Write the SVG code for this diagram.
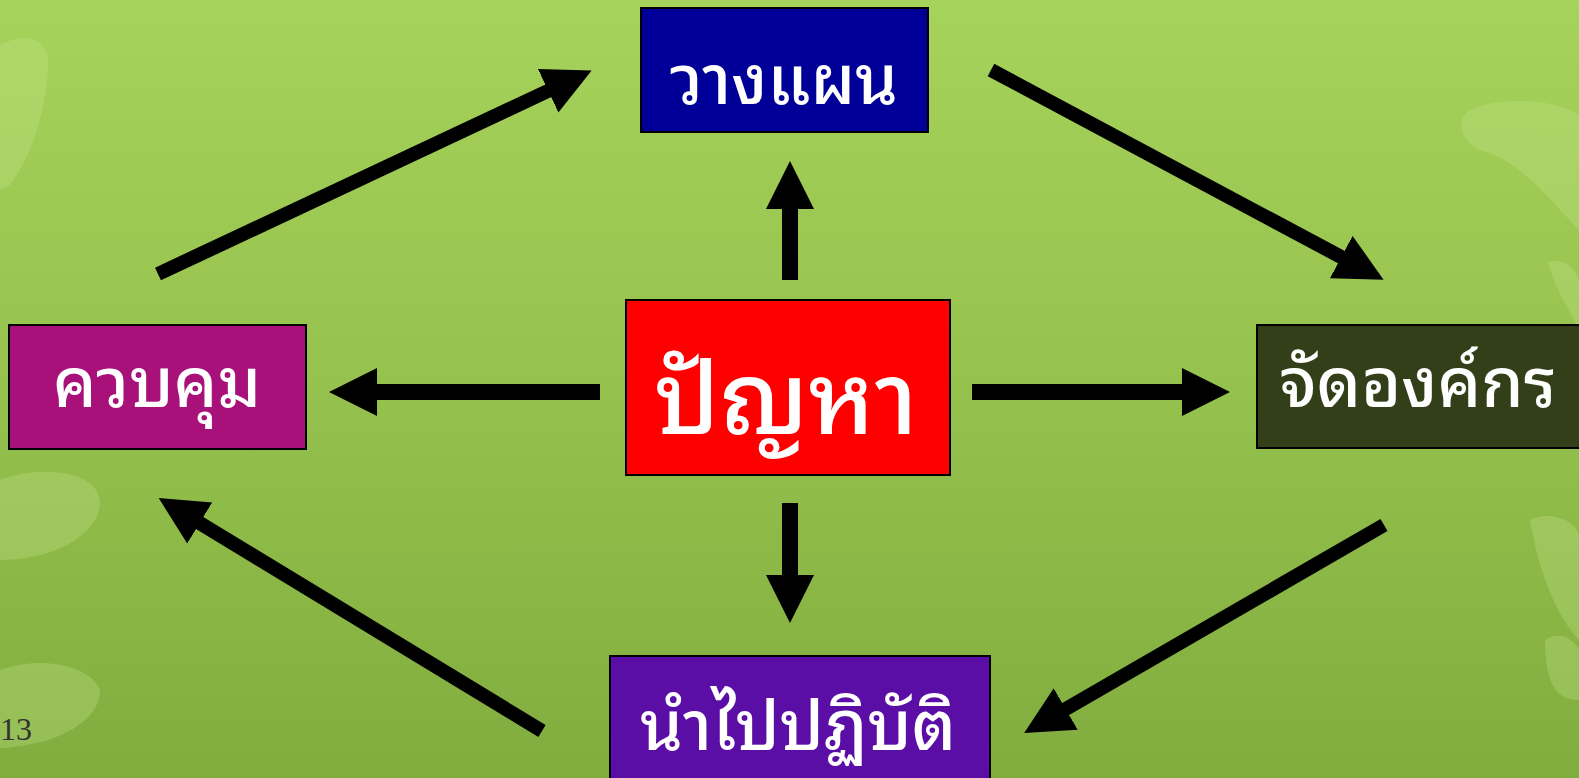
<svg xmlns="http://www.w3.org/2000/svg" width="1579" height="778" viewBox="0 0 1579 778">
<defs>
<linearGradient id="bg" x1="0" y1="0" x2="0" y2="1">
<stop offset="0" stop-color="#a6d35b"/>
<stop offset="0.5" stop-color="#95c14d"/>
<stop offset="1" stop-color="#80ad3e"/>
</linearGradient>
<marker id="ah" markerUnits="userSpaceOnUse" markerWidth="50" markerHeight="50" refX="2" refY="24" orient="auto">
<path d="M0,0 L48,24 L0,48 Z" fill="#000"/>
</marker>
<style>
.box{stroke:#000;stroke-width:2}
.lbl{fill:#fff;font-family:"Noto Sans Thai Looped","Noto Serif Thai","Garuda","Loma","Tlwg Typo","Kinnari","Norasi","Noto Sans Thai","Noto Sans",sans-serif;font-weight:500;text-anchor:middle}
.conn{stroke:#000;fill:none;marker-end:url(#ah)}
.blob{fill:#c8e690;opacity:0.3}
</style>
</defs>
<rect width="1579" height="778" fill="url(#bg)"/>
<g id="background-decor">
<path class="blob" d="M0,45 C30,30 50,40 48,70 C45,110 35,150 10,185 L0,190 Z"/>
<path class="blob" d="M0,480 C40,465 95,470 100,500 C102,530 60,560 0,560 Z"/>
<path class="blob" d="M0,670 C40,655 90,665 100,690 C100,720 60,745 0,748 Z"/>
<path class="blob" d="M1470,110 C1500,95 1560,100 1579,115 L1579,230 C1550,200 1520,160 1480,150 C1460,140 1455,120 1470,110 Z"/>
<path class="blob" d="M1548,262 C1560,258 1575,265 1579,280 L1579,330 C1570,310 1555,290 1548,262 Z"/>
<path class="blob" d="M1530,520 C1550,510 1575,520 1579,535 L1579,640 C1560,620 1540,580 1530,520 Z"/>
<path class="blob" d="M1545,640 C1560,630 1575,640 1579,650 L1579,700 C1560,700 1545,690 1545,640 Z"/>
</g>
<g id="connectors">
<line class="conn" stroke-width="14" x1="158" y1="274" x2="550" y2="90"/>
<line class="conn" stroke-width="14" x1="991" y1="70" x2="1343" y2="258"/>
<line class="conn" stroke-width="14" x1="1384" y1="525" x2="1064" y2="710"/>
<line class="conn" stroke-width="14" x1="542" y1="731" x2="198" y2="522"/>
<line class="conn" stroke-width="16" x1="600" y1="392" x2="375" y2="392"/>
<line class="conn" stroke-width="16" x1="972" y1="392" x2="1184" y2="392"/>
<line class="conn" stroke-width="16" x1="790" y1="280" x2="790" y2="207"/>
<line class="conn" stroke-width="16" x1="790" y1="503" x2="790" y2="577"/>
</g>
<g id="node-plan">
<rect class="box" x="641" y="8" width="287" height="124" fill="#000099"/>
<text class="lbl" x="784" y="104" font-size="68">วางแผน</text>
</g>
<g id="node-problem">
<rect class="box" x="626" y="300" width="324" height="175" fill="#ff0000"/>
<text class="lbl" x="786" y="434" font-size="100">ปัญหา</text>
</g>
<g id="node-organize">
<rect class="box" x="1257" y="325" width="330" height="123" fill="#333f18"/>
<text class="lbl" x="1418" y="407" font-size="68">จัดองค์กร</text>
</g>
<g id="node-control">
<rect class="box" x="9" y="325" width="297" height="124" fill="#a8107a"/>
<text class="lbl" x="157" y="407" font-size="68">ควบคุม</text>
</g>
<g id="node-implement">
<rect class="box" x="610" y="656" width="380" height="130" fill="#5b0ea5"/>
<text class="lbl" x="798" y="750" font-size="68">นำไปปฏิบัติ</text>
</g>
<text x="0" y="740" font-family="Liberation Serif, serif" font-size="32" fill="#333">13</text>
</svg>
